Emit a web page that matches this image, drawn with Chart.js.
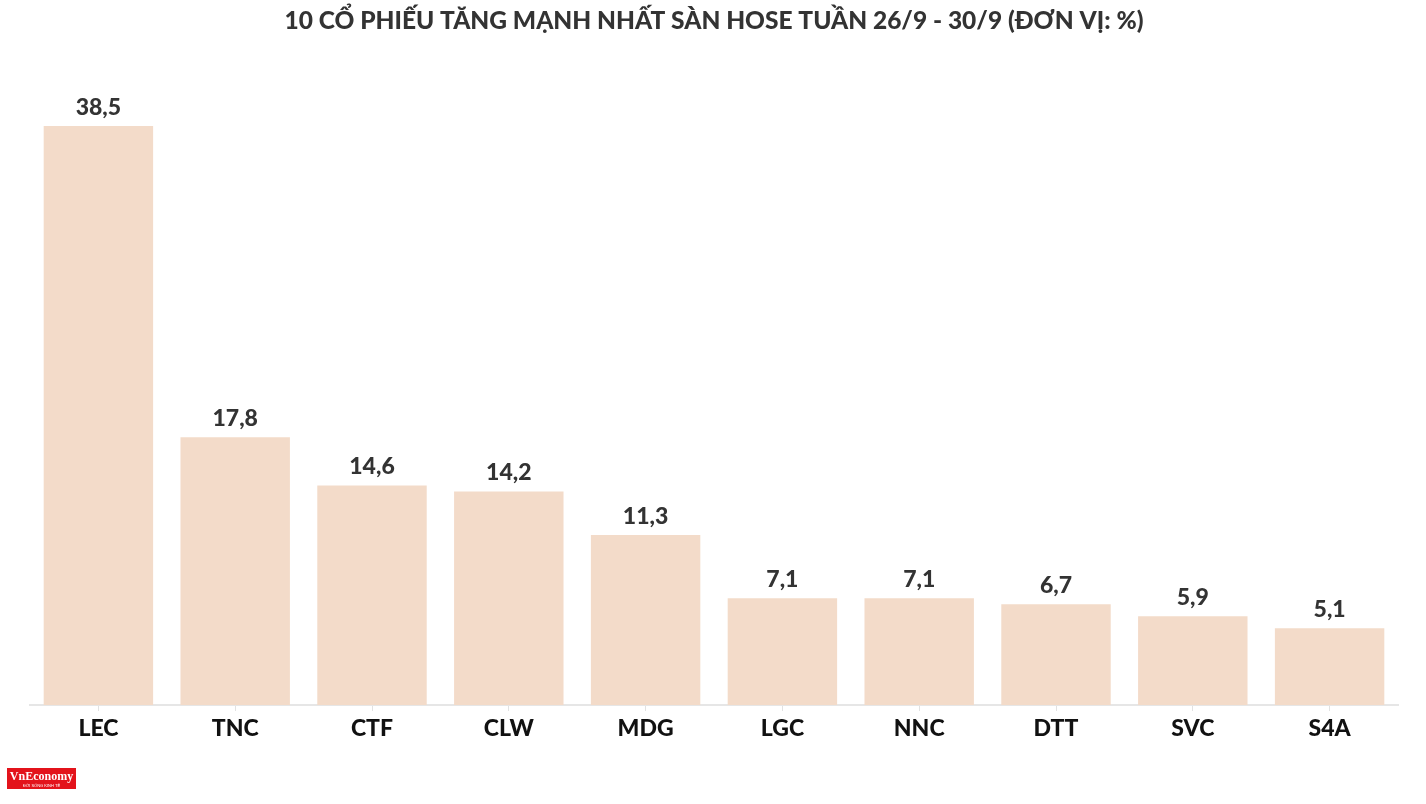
<!DOCTYPE html>
<html>
<head>
<meta charset="utf-8">
<script src="https://cdn.jsdelivr.net/npm/chart.js@4"></script>
<style>
  html, body { margin: 0; padding: 0; background: #fff; }
  #wrap { width: 1426px; height: 804px; position: relative; }
</style>
</head>
<body>
<div id="wrap"><canvas id="chart" width="1426" height="804"></canvas></div>
<script>
// data
const tickers = ['LEC', 'TNC', 'CTF', 'CLW', 'MDG', 'LGC', 'NNC', 'DTT', 'SVC', 'S4A'];
const gains = [38.5, 17.8, 14.6, 14.2, 11.3, 7.1, 7.1, 6.7, 5.9, 5.1];
const titleText = '10 CỔ PHIẾU TĂNG MẠNH NHẤT SÀN HOSE TUẦN 26/9 - 30/9 (ĐƠN VỊ: %)';

const FONT = 'Lato, "Noto Sans", sans-serif';

// value labels over each bar
const valueLabels = {
    id: 'valueLabels',
    afterDatasetsDraw: function(chart) {
        const ctx = chart.ctx;
        const meta = chart.getDatasetMeta(0);
        ctx.save();
        ctx.font = '900 23px ' + FONT;
        ctx.fillStyle = '#333333';
        ctx.textAlign = 'center';
        ctx.textBaseline = 'bottom';
        meta.data.forEach((bar, i) => {
            const txt = gains[i].toFixed(1).replace('.', ',');
            ctx.fillText(txt, bar.x, bar.y - 7);
        });
        ctx.restore();
    }
};

// small red logo bottom-left
const logo = {
    id: 'logo',
    afterDraw: function(chart) {
        const ctx = chart.ctx;
        ctx.save();
        ctx.fillStyle = '#e3131b';
        ctx.fillRect(7, 768, 69, 21);
        ctx.fillStyle = '#ffffff';
        ctx.font = 'bold 12px "Liberation Serif", serif';
        ctx.textAlign = 'center';
        ctx.textBaseline = 'middle';
        ctx.fillText('VnEconomy', 41.5, 777);
        ctx.font = '4px sans-serif';
        ctx.fillText('ĐỜI SỐNG KINH TẾ', 41.5, 786);
        ctx.restore();
    }
};

const ctx = document.getElementById('chart').getContext('2d');
new Chart(ctx, {
    type: 'bar',
    data: {
        labels: tickers,
        datasets: [{
            data: gains,
            backgroundColor: '#f3dbc9',
            borderWidth: 0,
            barPercentage: 0.8,
            categoryPercentage: 1.0
        }]
    },
    options: {
        responsive: false,
        animation: false,
        layout: {
            padding: { left: 30, right: 28, top: 0, bottom: 0 }
        },
        scales: {
            x: {
                afterFit: function(scale) { scale.height = 99; },
                grid: {
                    offset: false,
                    drawOnChartArea: false,
                    drawTicks: true,
                    tickLength: 6,
                    color: '#e2e2e2'
                },
                border: { color: '#e6e6e6', width: 2 },
                ticks: {
                    padding: 4,
                    color: '#111111',
                    font: { family: FONT, size: 23, weight: '900' }
                }
            },
            y: {
                display: false,
                min: 0,
                max: 41.56
            }
        },
        plugins: {
            legend: { display: false },
            tooltip: { enabled: false },
            title: {
                display: true,
                text: titleText,
                color: '#333333',
                font: { family: FONT, size: 24.5, weight: '900', lineHeight: 1.2 },
                padding: { top: 6, bottom: 44.6 }
            }
        }
    },
    plugins: [valueLabels, logo]
});
</script>
</body>
</html>
